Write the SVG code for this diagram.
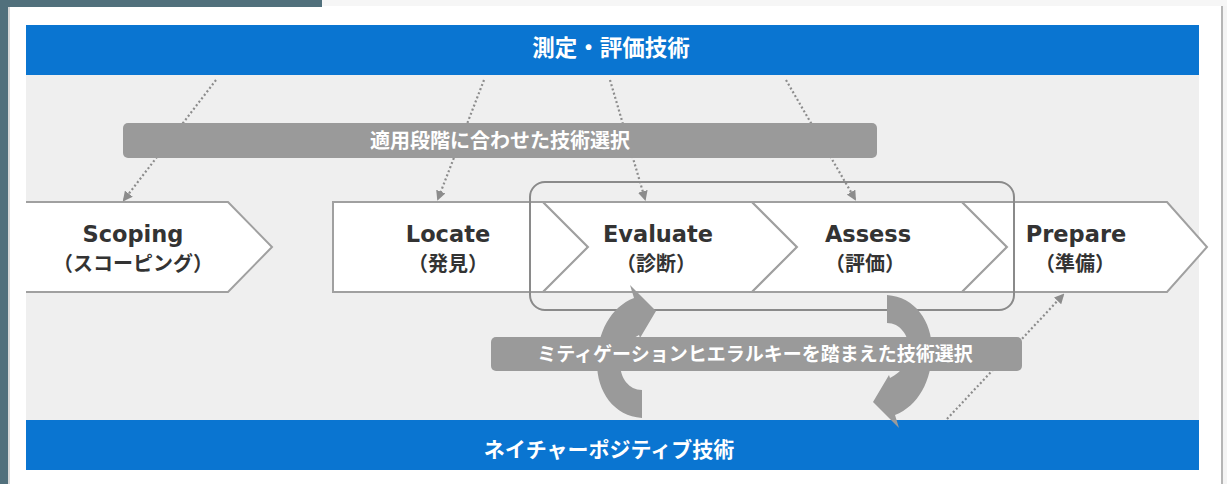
<svg xmlns="http://www.w3.org/2000/svg" width="1227" height="484" viewBox="0 0 1227 484">
<defs>
<style>
.chev{fill:#ffffff;stroke:#a0a0a0;stroke-width:2;stroke-linejoin:miter}
.lat{font-family:"DejaVu Sans","Noto Sans",sans-serif;font-weight:bold;font-size:22.5px;fill:#333333;text-anchor:middle}
.jp{font-family:"Noto Sans CJK JP","Noto Sans",sans-serif;font-weight:bold;font-size:20px;fill:#333333;text-anchor:middle}
.ttl{font-family:"Noto Sans CJK JP","Noto Sans",sans-serif;font-weight:bold;fill:#ffffff;text-anchor:middle}
.dot{fill:none;stroke:#8c8c8c;stroke-width:2.2;stroke-dasharray:2 2.4;marker-end:url(#ah)}
.lbl{fill:#9a9a9a}
.circ{fill:#9a9a9a}
</style>
<marker id="ah" viewBox="0 0 10 10" refX="8" refY="5" markerWidth="10" markerHeight="10" markerUnits="userSpaceOnUse" orient="auto">
<path d="M0,0 L10,5 L0,10 z" fill="#8c8c8c"/>
</marker>
<path id="carrow" d="M642,418 C614,416 597,392 597,363 C597,332 611,307 634,298 L630,285 L656,311 L640,338 L639,335 C627,341 620,351 620,363 C620,378 629,390 642,390 Z"/>
</defs>
<!-- frame -->
<rect x="0" y="0" width="1227" height="484" fill="#ffffff"/>
<rect x="322" y="0" width="905" height="6" fill="#f6f6f6"/>
<rect x="0" y="0" width="322" height="7" fill="#51707c"/>
<rect x="0" y="0" width="8" height="484" fill="#51707c"/>
<rect x="8" y="7" width="2" height="477" fill="#d8d8d8"/>
<rect x="1221" y="6" width="2" height="478" fill="#b5b5b5"/>
<rect x="1223" y="6" width="4" height="478" fill="#f4f4f4"/>
<!-- background bands -->
<rect x="26" y="75" width="1173" height="345" fill="#efefef"/>
<g id="top-band">
<rect x="26" y="25" width="1173" height="50" fill="#0a75d1"/>
<text class="ttl" x="611" y="56" font-size="22.5">測定・評価技術</text>
</g>
<g id="bottom-band">
<rect x="26" y="420" width="1173" height="50" fill="#0a75d1"/>
<text class="ttl" x="609" y="457" font-size="21">ネイチャーポジティブ技術</text>
</g>
<!-- stages -->
<g id="scoping">
<path class="chev" d="M26,202 H228 L272,247 L228,292 H26"/>
<text class="lat" x="133" y="242">Scoping</text>
<text class="jp" x="133" y="271">（スコーピング）</text>
</g>
<g id="locate">
<path class="chev" d="M333,202 H543 L588,247 L543,292 H333 Z"/>
<text class="lat" x="448" y="242">Locate</text>
<text class="jp" x="448" y="271">（発見）</text>
</g>
<g id="evaluate">
<path class="chev" d="M543,202 H752 L797,247 L752,292 H543 L588,247 Z"/>
<text class="lat" x="658" y="242">Evaluate</text>
<text class="jp" x="656" y="271">（診断）</text>
</g>
<g id="assess">
<path class="chev" d="M752,202 H962 L1007,247 L962,292 H752 L797,247 Z"/>
<text class="lat" x="868" y="242">Assess</text>
<text class="jp" x="865" y="271">（評価）</text>
</g>
<g id="prepare">
<path class="chev" d="M962,202 H1167 L1207,247 L1167,292 H962 L1007,247 Z"/>
<text class="lat" x="1076" y="242">Prepare</text>
<text class="jp" x="1075" y="271">（準備）</text>
</g>
<g id="focus-frame">
<rect x="530" y="182" width="484" height="128" rx="15" ry="15" fill="none" stroke="#8a8a8a" stroke-width="2"/>
</g>
<!-- cycle arrows -->
<g id="cycle-arrows">
<use href="#carrow" class="circ"/>
<use href="#carrow" class="circ" transform="rotate(180 764.5 356.5)"/>
</g>
<!-- connectors -->
<g id="connectors">
<line class="dot" x1="216" y1="80" x2="124" y2="200"/>
<line class="dot" x1="484" y1="80" x2="438" y2="199"/>
<line class="dot" x1="610" y1="80" x2="645" y2="199"/>
<line class="dot" x1="786" y1="80" x2="855" y2="199"/>
<line class="dot" x1="947" y1="419" x2="1063" y2="295"/>
</g>
<!-- labels -->
<g id="label-stage">
<rect class="lbl" x="123" y="123" width="754" height="35" rx="5" ry="5"/>
<text class="ttl" x="500" y="148" font-size="20">適用段階に合わせた技術選択</text>
</g>
<g id="label-mitigation">
<rect class="lbl" x="491" y="337" width="531" height="34" rx="5" ry="5"/>
<text class="ttl" x="755" y="361" font-size="19">ミティゲーションヒエラルキーを踏まえた技術選択</text>
</g>
</svg>
